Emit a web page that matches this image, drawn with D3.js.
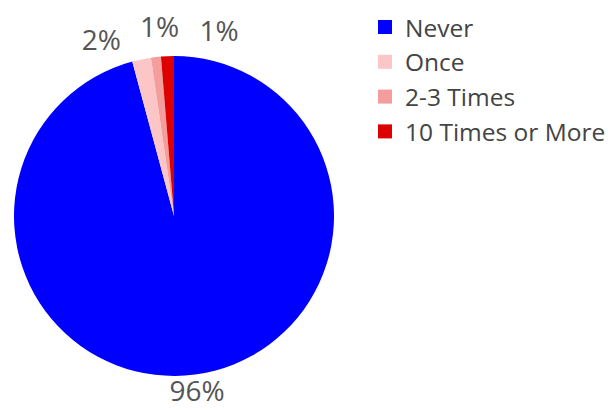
<!DOCTYPE html>
<html>
<head>
<meta charset="utf-8">
<script src="https://cdn.jsdelivr.net/npm/d3@7"></script>
<style>
  html, body { margin: 0; padding: 0; background: #fff; }
  svg { display: block; font-family: "Open Sans", "DejaVu Sans", sans-serif; }
</style>
</head>
<body>
<svg id="chart" width="608" height="410"></svg>
<script>
// Share of respondents by frequency (percent)
const categories = ["Never", "Once", "2-3 Times", "10 Times or More"];
const shares = [95.8, 1.9, 1.0, 1.3];
const colors = ["#0000ff", "#fdc6c6", "#f39d9d", "#dc0000"];

const width = 608, height = 410;
const cx = 174, cy = 216, radius = 160;

const svg = d3.select("#chart");

const data = categories.map((c, i) => ({ category: c, value: shares[i], color: colors[i] }));

const pie = d3.pie().value(d => d.value).sort(null);
const arcs = pie(data);
const arc = d3.arc().innerRadius(0).outerRadius(radius);

const g = svg.append("g").attr("transform", `translate(${cx},${cy})`);

g.selectAll("path.slice")
  .data(arcs)
  .join("path")
  .attr("class", "slice")
  .attr("d", arc)
  .attr("fill", d => d.data.color);

// Label placement: angle at slice middle, then spread small neighbouring labels apart
const fmt = v => d3.format(".0f")(v) + "%";
const labels = arcs.map(a => {
  let ang = (a.startAngle + a.endAngle) / 2;
  if (ang > Math.PI) ang -= 2 * Math.PI;
  return { a, ang, r: radius + 16 };
});

const minGap = 18 * Math.PI / 180;
const sorted = labels.slice().sort((p, q) => p.ang - q.ang);
// group labels that are too close and spread each group evenly around its mean
let groups = [];
sorted.forEach(l => {
  const last = groups[groups.length - 1];
  if (last && l.ang - last[last.length - 1].ang < minGap) last.push(l);
  else groups.push([l]);
});
groups.forEach(grp => {
  if (grp.length < 2) return;
  const mean = d3.mean(grp, l => l.ang) + 2.5 * Math.PI / 180;
  grp.forEach((l, i) => {
    l.ang = mean + (i - (grp.length - 1) / 2) * minGap;
    l.r = radius + 31;
  });
});

g.selectAll("text.value")
  .data(labels)
  .join("text")
  .attr("class", "value")
  .attr("x", d => Math.sin(d.ang) * d.r)
  .attr("y", d => -Math.cos(d.ang) * d.r)
  .attr("text-anchor", "middle")
  .attr("dominant-baseline", "central")
  .attr("font-size", 28)
  .attr("fill", "#555")
  .text(d => fmt(d.a.data.value));

// Legend
const legend = svg.append("g").attr("transform", "translate(378,27)");
const rowStep = 34.8;
const rows = legend.selectAll("g.row")
  .data(data)
  .join("g")
  .attr("class", "row")
  .attr("transform", (d, i) => `translate(0,${i * rowStep})`);

rows.append("rect")
  .attr("x", 0).attr("y", -7)
  .attr("width", 14).attr("height", 14)
  .attr("fill", d => d.color);

rows.append("text")
  .attr("x", 27).attr("y", 0)
  .attr("dominant-baseline", "central")
  .attr("font-size", 24.5)
  .attr("fill", "#444")
  .text(d => d.category);
</script>
</body>
</html>
